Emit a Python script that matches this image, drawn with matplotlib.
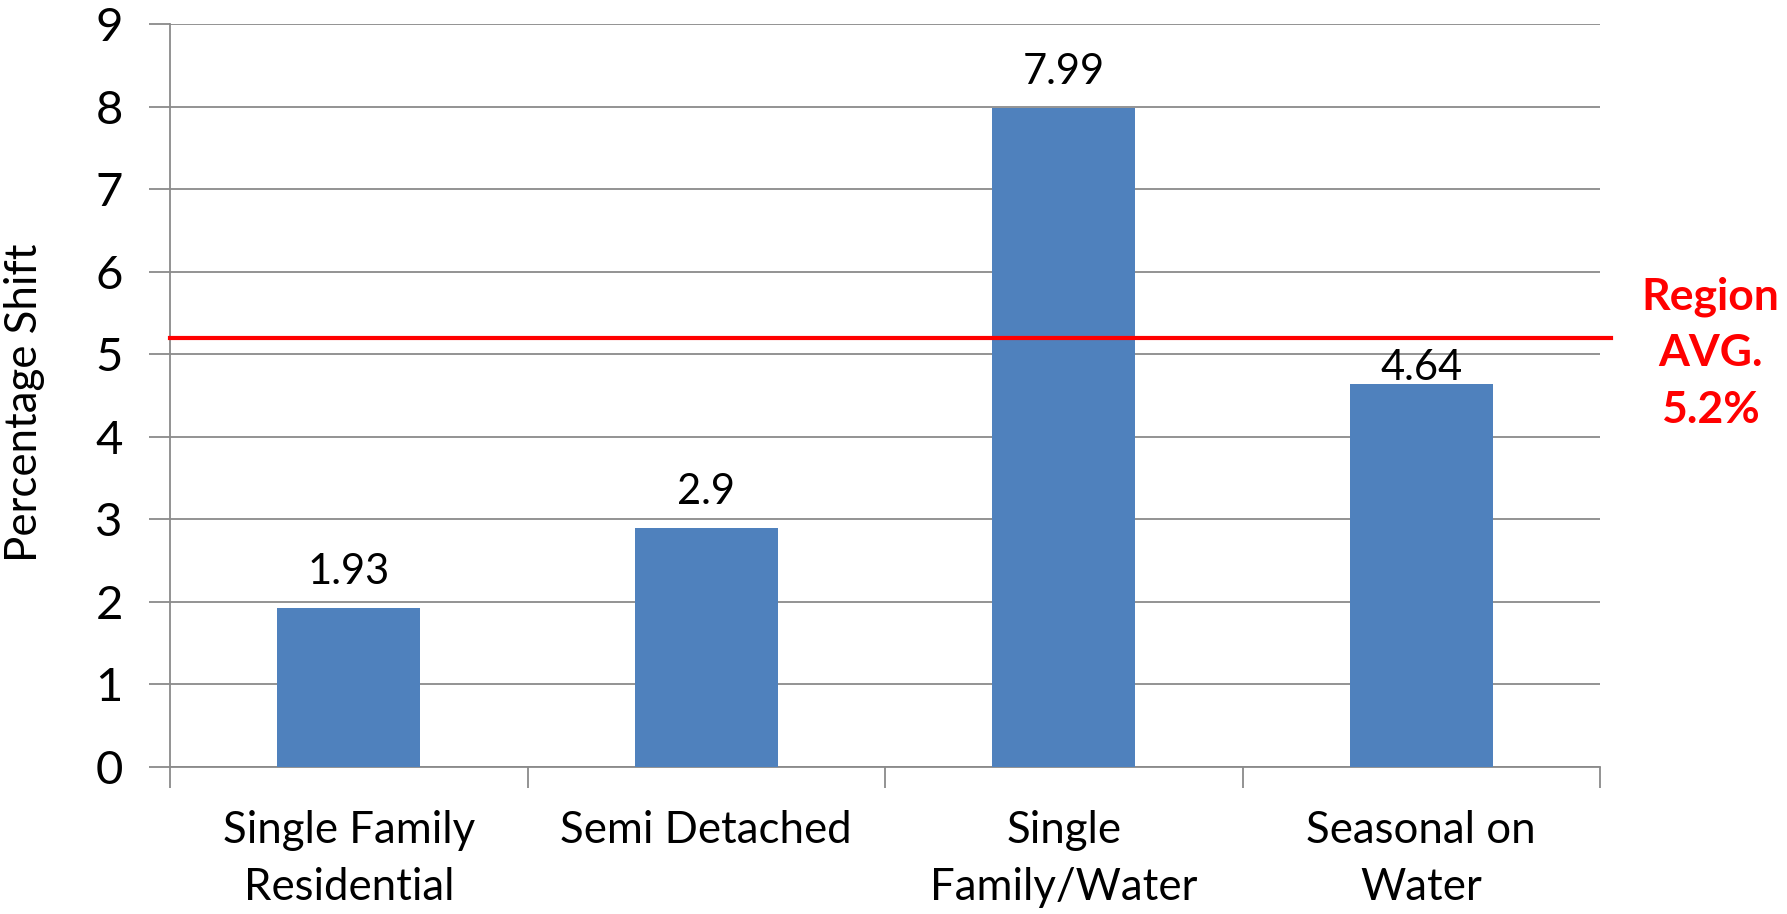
import matplotlib
matplotlib.use("Agg")
import matplotlib.pyplot as plt
import numpy as np

# Data
categories = ["Single Family\nResidential", "Semi Detached", "Single\nFamily/Water", "Seasonal on\nWater"]
shift_values = [1.93, 2.9, 7.99, 4.64]
value_labels = ["1.93", "2.9", "7.99", "4.64"]
region_avg = 5.2
y_ticks = [0, 1, 2, 3, 4, 5, 6, 7, 8, 9]

# Vertical gap (pixels) between each bar top and its value label
label_gaps = [24, 24, 24, 4]

plt.rcParams['font.family'] = ['Lato', 'DejaVu Sans']

W, H = 1787, 914
fig = plt.figure(figsize=(W / 100, H / 100), dpi=100)
ax = fig.add_axes([170 / W, (H - 766.7) / H, 1430 / W, 742.2 / H])

grid_color = "#8a8a8a"
bar_color = "#4f81bd"

x = np.arange(len(categories))
ax.bar(x, shift_values, width=0.4, color=bar_color, zorder=3)

for xi, v, lab, gap in zip(x, shift_values, value_labels, label_gaps):
    ax.annotate(lab, (xi, v), xytext=(0, gap), textcoords="offset pixels",
                ha="center", va="baseline", fontsize=30, color="black", zorder=4)

ax.set_xlim(-0.5, len(categories) - 0.5)
ax.set_ylim(0, 9)
ax.set_yticks(y_ticks)
ax.set_yticklabels([str(t) for t in y_ticks])

ax.yaxis.grid(True, color=grid_color, linewidth=1.3, zorder=0)
ax.set_axisbelow(True)

# Category labels at bar centres, tick marks at category boundaries
ax.set_xticks(x)
ax.set_xticklabels(categories, fontsize=31.5, linespacing=1.5, va="top")
ax.set_xticks(np.arange(-0.5, len(categories), 1.0), minor=True)
ax.tick_params(axis="x", which="major", length=0, pad=31)
ax.tick_params(axis="x", which="minor", length=15, width=1.3, color=grid_color)
ax.tick_params(axis="y", length=15, width=1.3, color=grid_color, pad=19, labelsize=34)

for side in ["top", "right"]:
    ax.spines[side].set_visible(False)
for side in ["left", "bottom"]:
    ax.spines[side].set_color(grid_color)
    ax.spines[side].set_linewidth(1.3)

ax.set_ylabel("Percentage Shift", fontsize=31.5)
ax.yaxis.label.set_va("center")
ax.yaxis.set_label_coords(-0.1014, 0.49)

# Regional average line, extending slightly past the plot area
ax.plot([-0.5, 3.53], [region_avg, region_avg], color="#ff0000", linewidth=3,
        clip_on=False, zorder=5)

fig.text(1710 / W, 1 - 353 / H, f"Region\nAVG.\n{region_avg}%", color="#ff0000",
         fontsize=32, fontweight="bold", ha="center", va="center", linespacing=1.5)

fig.savefig("out.png", dpi=100)
